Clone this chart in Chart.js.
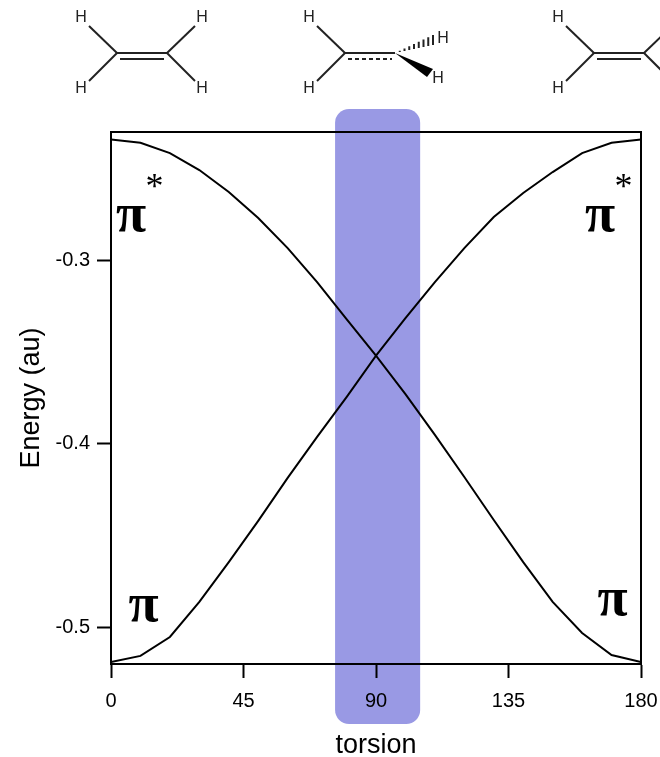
<!DOCTYPE html>
<html><head><meta charset="utf-8">
<style>html,body{margin:0;padding:0;background:#fff}canvas{display:block}</style>
<script src="https://cdn.jsdelivr.net/npm/chart.js@4"></script>
</head><body>
<canvas id="c" width="660" height="757"></canvas>
<script>
const torsion = [0,10,20,30,40,50,60,70,80,90,100,110,120,130,140,150,160,170,180];
const piStarEnergy = [-0.2344,-0.2362,-0.2418,-0.2510,-0.2630,-0.2771,-0.2935,-0.3120,-0.3321,-0.3520,-0.3316,-0.3120,-0.2935,-0.2766,-0.2635,-0.2521,-0.2418,-0.2362,-0.2344];
const piEnergy = [-0.5188,-0.5155,-0.5052,-0.4861,-0.4644,-0.4420,-0.4186,-0.3963,-0.3746,-0.3520,-0.3730,-0.3952,-0.4181,-0.4415,-0.4644,-0.4861,-0.5030,-0.5150,-0.5188];
const xTicks = [0,45,90,135,180];
const yTicks = [-0.5,-0.4,-0.3];
const highlightRange = [76.1,105];
const FONT_SANS = '"Liberation Sans",sans-serif';
const FONT_SERIF = '"Liberation Serif",serif';

const decorations = {
  id:'decorations',
  afterDraw(chart){
    const {ctx,chartArea:a,scales:{x}} = chart;
    ctx.save();
    ctx.strokeStyle='#000'; ctx.lineWidth=2;
    ctx.strokeRect(a.left,a.top,a.right-a.left,a.bottom-a.top);
    ctx.fillStyle='#000'; ctx.textAlign='center'; ctx.textBaseline='alphabetic';
    const pi=(t,px,py,f)=>{ctx.font=f;ctx.fillText(t,px,py);};
    const piF='bold 55px '+FONT_SERIF, stF='36px '+FONT_SERIF;
    pi('π',131,231,piF); pi('*',154.5,198,stF);
    pi('π',600,231,piF); pi('*',623.5,198,stF);
    pi('π',143.5,621,piF);
    pi('π',612.5,615,piF);
    ctx.lineCap='butt'; ctx.lineWidth=2; ctx.strokeStyle='#222';
    const seg=(x1,y1,x2,y2)=>{ctx.beginPath();ctx.moveTo(x1,y1);ctx.lineTo(x2,y2);ctx.stroke();};
    const H=(hx,hy)=>{ctx.font='16px '+FONT_SANS;ctx.textBaseline='middle';ctx.fillStyle='#222';ctx.fillText('H',hx,hy);};
    const leftHalf=(cx)=>{seg(cx,53,cx-28,26);seg(cx,53,cx-28,81);H(cx-36,18);H(cx-36,89);};
    const rightHalf=(cx)=>{seg(cx,53,cx+28,26);seg(cx,53,cx+28,81);H(cx+35,18);H(cx+35,89);};
    leftHalf(117);rightHalf(167);seg(117,53,167,53);seg(120,59,164,59);
    leftHalf(345);seg(345,53,395,53);
    ctx.setLineDash([4,3]);seg(348,59,392,59);ctx.setLineDash([]);
    for(let i=1;i<=8;i++){const t=i/8,hx=395+t*38,hy=53-t*13,w=t*5;seg(hx,hy-w,hx,hy+w);}
    ctx.fillStyle='#000';ctx.beginPath();ctx.moveTo(395,53);ctx.lineTo(433,69);ctx.lineTo(427,77);ctx.closePath();ctx.fill();
    H(443,39);H(438,79);
    leftHalf(594);rightHalf(644);seg(594,53,644,53);seg(597,59,641,59);
    const bx0=x.getPixelForValue(highlightRange[0]), bx1=x.getPixelForValue(highlightRange[1]);
    ctx.globalCompositeOperation='multiply';
    ctx.fillStyle='#9999e4';
    ctx.beginPath();ctx.roundRect(bx0,109,bx1-bx0,615,14);ctx.fill();
    ctx.restore();
  }
};

new Chart(document.getElementById('c'),{
  type:'line',
  data:{datasets:[
    {label:'π*',data:torsion.map((t,i)=>({x:t,y:piStarEnergy[i]})),borderColor:'#000',borderWidth:2,pointRadius:0,tension:0,fill:false},
    {label:'π',data:torsion.map((t,i)=>({x:t,y:piEnergy[i]})),borderColor:'#000',borderWidth:2,pointRadius:0,tension:0,fill:false}
  ]},
  options:{
    responsive:false,animation:false,
    layout:{autoPadding:false,padding:{left:0,top:132,right:19,bottom:0}},
    plugins:{legend:{display:false},tooltip:{enabled:false},title:{display:false}},
    scales:{
      x:{type:'linear',min:0,max:180,
        afterFit(s){s.height=93;s.paddingLeft=0;s.paddingRight=0;},
        afterBuildTicks(s){s.ticks=xTicks.map(v=>({value:v}));},
        grid:{drawOnChartArea:false,drawTicks:true,tickLength:14,tickWidth:2,tickColor:'#000'},
        border:{display:true,color:'#000',width:2},
        ticks:{autoSkip:false,maxRotation:0,padding:11,color:'#000',font:{family:FONT_SANS,size:20}},
        title:{display:true,text:'torsion',color:'#000',padding:0,font:{family:FONT_SANS,size:27,lineHeight:0.84}}
      },
      y:{type:'linear',min:-0.5199,max:-0.2303,
        afterFit(s){s.width=111;s.paddingTop=0;s.paddingBottom=0;},
        afterBuildTicks(s){s.ticks=yTicks.map(v=>({value:v}));},
        grid:{drawOnChartArea:false,drawTicks:true,tickLength:14,tickWidth:2,tickColor:'#000'},
        border:{display:true,color:'#000',width:2},
        ticks:{autoSkip:false,padding:7,color:'#000',font:{family:FONT_SANS,size:20},callback:v=>v.toFixed(1)},
        title:{display:true,text:'Energy (au)',color:'#000',padding:{top:15,bottom:0},font:{family:FONT_SANS,size:27,lineHeight:1.2}}
      }
    }
  },
  plugins:[decorations]
});
</script>
</body></html>
